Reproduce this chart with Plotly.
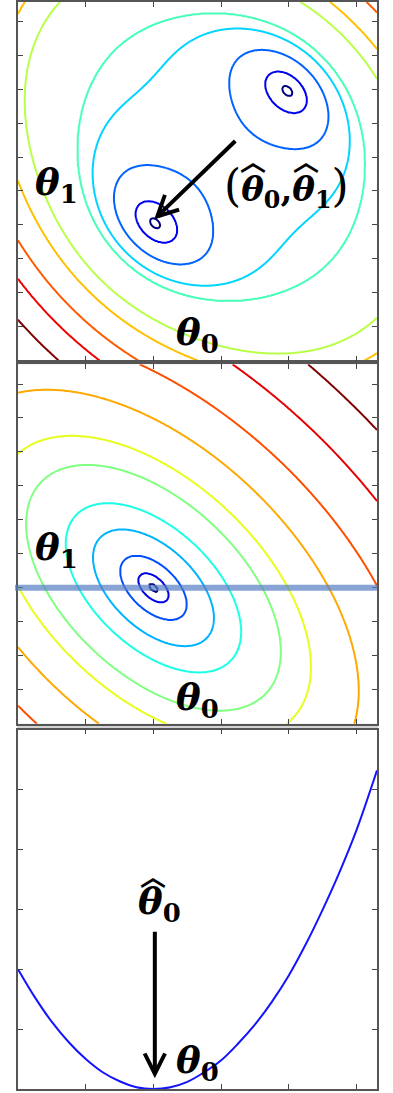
import numpy as np
import plotly.graph_objects as go

# ---------------------------------------------------------------- data
theta0_ticks = [-2, -1, 0, 1, 2]
theta1_ticks = [-2.5, -2, -1.5, -1, -0.5, 0, 0.5, 1, 1.5, 2]
cost_ticks = [1, 2, 3, 4, 5]

theta0_range = [-3.0, 2.3]
theta1_range = [-3.0, 2.29]
cost_range = [0.0, 6.0]

theta_hat = [-1.0, -1.0]

# panel 1 : points (theta0, theta1), with the index of the
# contour line (0 = innermost navy ... 9 = outer dark red) that passes there
p1_obs_level = [0, 0, 0, 0,
                1, 1, 1, 1, 1, 1, 1, 1,
                2, 2, 2, 2,
                3, 3, 3, 3, 3, 3, 3, 3,
                4, 4, 4, 4, 4, 4,
                5, 5, 5, 5,
                6, 6, 6, 6, 6,
                7, 7,
                8, 8,
                9, 9]
p1_obs_t0 = [-1.077, -0.93, -1.0, -1.0,
             -1.248, -0.682, -0.965, -0.965, 0.671, 1.237, 0.954, 0.954,
             -1.543, -0.155, -0.80, -0.95,
             -1.888, -1.79, -1.642, -1.15, -0.657, -0.166, 0.326, -0.10,
             -2.11, -2.306, -0.21, -1.543, -0.505, 0.868,
             -2.48, -2.774, -3.0, -1.347,
             -2.90, -3.0, 1.606, 2.3, 2.2,
             -3.0, 2.24,
             -3.0, -1.79,
             -3.0, -2.41]
p1_obs_t1 = [-0.96, -0.96, -0.89, -1.02,
             -0.935, -0.935, -0.653, -1.218, 1.0, 1.0, 1.291, 0.716,
             -0.80, -0.90, -0.147, -1.499,
             -0.46, -0.653, 0.577, 1.07, 1.562, 1.83, 1.905, -1.834,
             -0.653, 0.085, 2.078, 1.536, -2.203, 1.832,
             -0.653, 0.676, 2.078, -2.277,
             -0.653, -0.43, 2.28, 1.635, -2.9,
             -1.14, 2.28,
             -1.80, -3.0,
             -2.39, -3.0]
p1_colors = ["#000080", "#0000f1", "#0063ff", "#00d4ff", "#47ffb8",
             "#b8ff47", "#ffc000", "#ff5a00", "#f10000", "#800000"]

# panel 2 : single quadratic basin, J = a*d0^2 + 2*b*d0*d1 + c*d1^2
p2_curvature = [0.5, 0.27, 0.54]
p2_levels = [0.0015, 0.0175, 0.087, 0.29, 0.61, 1.29, 1.97, 3.35, 5.5, 8.6, 12.5]
p2_colors = ["#000080", "#0000e6", "#004dff", "#00b3ff", "#1affe6", "#80ff80",
             "#e6ff1a", "#ffa800", "#ff4d00", "#e60000", "#800000"]

# panel 3 : slice of panel 2 along theta1 = theta1_hat
p3_theta0 = [-3.0, -2.75, -2.5, -2.25, -2.0, -1.75, -1.5, -1.25, -1.0, -0.75, -0.5,
             -0.25, 0.0, 0.25, 0.5, 0.75, 1.0, 1.25, 1.5, 1.75, 2.0, 2.3]
p3_cost = [2.00, 1.53, 1.12, 0.78, 0.50, 0.28, 0.13, 0.03, 0.00, 0.03, 0.12,
           0.28, 0.48, 0.76, 1.08, 1.46, 1.90, 2.42, 3.00, 3.63, 4.33, 5.32]

# ---------------------------------------------------------------- panel 1 surface fit
# bowl + two symmetric wells, fitted so that each contour runs through its points
BOUNDS = np.array([[1.0, 4.0],    # Ru
                   [1.0, 5.0],    # Rv
                   [1.5, 6.0],    # power
                   [0.8, 60.0],   # Rt (perpendicular saturation)
                   [0.05, 12.0],  # well depth
                   [1.1, 2.3],    # well position along diagonal
                   [0.25, 2.0],   # well width along diagonal
                   [0.25, 2.5]])  # well width across


def decode(z):
    lo, hi = BOUNDS[:, 0], BOUNDS[:, 1]
    return lo + (hi - lo) / (1.0 + np.exp(-z))


def encode(p):
    lo, hi = BOUNDS[:, 0], BOUNDS[:, 1]
    q = (np.asarray(p) - lo) / (hi - lo)
    return np.log(q / (1 - q))


def surface1(prm, t0, t1):
    Ru, Rv, pw, Rt, A, c, su, sv = prm
    u = (t0 + t1) / np.sqrt(2)
    v = (t1 - t0) / np.sqrt(2)
    bowl = (u * u / Ru ** 2 + v * v / Rv ** 2) ** (pw / 2) / (1 + v * v / Rt ** 2)
    wells = A * (np.exp(-(u - c) ** 2 / (2 * su * su) - v * v / (2 * sv * sv)) +
                 np.exp(-(u + c) ** 2 / (2 * su * su) - v * v / (2 * sv * sv)))
    return bowl - wells


O0 = np.array(p1_obs_t0)
O1 = np.array(p1_obs_t1)
OL = np.array(p1_obs_level)
NLEV = len(p1_colors)


def fit_levels(prm):
    f = surface1(prm, O0, O1)
    h = 1e-4
    gx = (surface1(prm, O0 + h, O1) - surface1(prm, O0 - h, O1)) / (2 * h)
    gy = (surface1(prm, O0, O1 + h) - surface1(prm, O0, O1 - h)) / (2 * h)
    w = 1.0 / (gx * gx + gy * gy + 1e-8)
    err, levels = 0.0, []
    for k in range(NLEV):
        m = OL == k
        L = np.sum(w[m] * f[m]) / np.sum(w[m])
        err += np.sum(w[m] * (f[m] - L) ** 2)
        levels.append(L)
    d = np.diff(levels)
    err += 1e3 * np.sum(np.clip(-d, 0, None))
    return err, levels


def objective(z):
    e, _ = fit_levels(decode(z))
    return e if np.isfinite(e) else 1e12


def nelder_mead(fun, x0, step=0.6, iters=2500):
    n = len(x0)
    pts = [np.array(x0, float)]
    for i in range(n):
        p = np.array(x0, float)
        p[i] += step
        pts.append(p)
    vals = [fun(p) for p in pts]
    for _ in range(iters):
        idx = np.argsort(vals)
        pts = [pts[i] for i in idx]
        vals = [vals[i] for i in idx]
        cen = np.mean(pts[:-1], axis=0)
        xr = cen + (cen - pts[-1])
        fr = fun(xr)
        if fr < vals[0]:
            xe = cen + 2 * (cen - pts[-1])
            fe = fun(xe)
            if fe < fr:
                pts[-1], vals[-1] = xe, fe
            else:
                pts[-1], vals[-1] = xr, fr
        elif fr < vals[-2]:
            pts[-1], vals[-1] = xr, fr
        else:
            xc = cen + 0.5 * (pts[-1] - cen)
            fc = fun(xc)
            if fc < vals[-1]:
                pts[-1], vals[-1] = xc, fc
            else:
                for i in range(1, n + 1):
                    pts[i] = pts[0] + 0.5 * (pts[i] - pts[0])
                    vals[i] = fun(pts[i])
    i = int(np.argmin(vals))
    return pts[i], vals[i]


z0 = encode([2.0, 2.16, 4.0, 30.0, 1.5, 1.584, 0.6, 0.6])
best_z, best_e = nelder_mead(objective, z0)
for _ in range(3):
    best_z, best_e = nelder_mead(objective, best_z, step=0.3)
p1_params = decode(best_z)
_, p1_levels = fit_levels(p1_params)

# ---------------------------------------------------------------- grids
g0 = np.linspace(theta0_range[0], theta0_range[1], 380)
g1 = np.linspace(theta1_range[0], theta1_range[1], 380)
T0, T1 = np.meshgrid(g0, g1)


def surface2(t0, t1):
    a, b, c = p2_curvature
    d0 = t0 - theta_hat[0]
    d1 = t1 - theta_hat[1]
    return a * d0 * d0 + 2 * b * d0 * d1 + c * d1 * d1


Z1 = surface1(p1_params, T0, T1)
Z2 = surface2(T0, T1)


def level_index(z, levels):
    """monotone map so that the k-th level becomes the value k"""
    lv = list(levels)
    xp = [min(float(z.min()), lv[0]) - 1.0] + lv + [max(float(z.max()), lv[-1]) + 1.0]
    fp = [-1.0] + list(range(len(lv))) + [float(len(lv))]
    return np.interp(z, xp, fp).astype(np.float32)


def scale_of(colors):
    n = len(colors)
    return [[k / (n - 1), c] for k, c in enumerate(colors)]


# ---------------------------------------------------------------- layout geometry
W, H = 393, 1093
left_px, right_px = 18, 377
panels_px = [(0, 359), (363, 723), (729, 1089)]   # (top, bottom)


def px_x(p):
    return p / W


def px_y(p):
    return 1 - p / H


fig = go.Figure()

fig.add_trace(go.Contour(
    x=g0, y=g1, z=level_index(Z1, p1_levels),
    autocontour=False,
    contours=dict(start=0, end=NLEV - 1, size=1, coloring="lines"),
    colorscale=scale_of(p1_colors), showscale=False,
    line=dict(width=2, smoothing=1), hoverinfo="skip",
    xaxis="x", yaxis="y"))

fig.add_trace(go.Contour(
    x=g0, y=g1, z=level_index(Z2, p2_levels),
    autocontour=False,
    contours=dict(start=0, end=len(p2_levels) - 1, size=1, coloring="lines"),
    colorscale=scale_of(p2_colors), showscale=False,
    line=dict(width=2, smoothing=1), hoverinfo="skip",
    xaxis="x2", yaxis="y2"))

fig.add_trace(go.Scatter(
    x=p3_theta0, y=p3_cost, mode="lines",
    line=dict(color="#1414ff", width=2, shape="spline", smoothing=1),
    hoverinfo="skip", xaxis="x3", yaxis="y3"))

frame = dict(showline=True, linecolor="#555555", linewidth=1.6, mirror="ticks",
             ticks="inside", ticklen=5, tickwidth=1, tickcolor="#444444",
             showticklabels=False, showgrid=False, zeroline=False)

layout = dict(
    width=W, height=H, margin=dict(l=0, r=0, t=0, b=0),
    paper_bgcolor="white", plot_bgcolor="white", showlegend=False,
)
axis_ids = ["", "2", "3"]
y_ranges = [theta1_range, theta1_range, cost_range]
y_ticks = [theta1_ticks, theta1_ticks, cost_ticks]
for i, (top, bot) in enumerate(panels_px):
    sid = axis_ids[i]
    layout["xaxis" + sid] = dict(frame, domain=[px_x(left_px), px_x(right_px)],
                                 range=theta0_range, tickvals=theta0_ticks,
                                 anchor="y" + sid)
    layout["yaxis" + sid] = dict(frame, domain=[px_y(bot), px_y(top)],
                                 range=y_ranges[i], tickvals=y_ticks[i],
                                 anchor="x" + sid)
fig.update_layout(**layout)

shapes = []
for top, bot in [(359, 363), (723, 729)]:
    shapes.append(dict(type="rect", xref="paper", yref="paper",
                       x0=px_x(left_px - 1), x1=px_x(right_px + 1),
                       y0=px_y(bot), y1=px_y(top),
                       fillcolor="#d4d4d4", line=dict(width=0), layer="below"))
shapes.append(dict(type="line", xref="paper", yref="y2",
                   x0=px_x(left_px - 3), x1=px_x(right_px),
                   y0=theta_hat[1], y1=theta_hat[1],
                   line=dict(color="rgba(85,125,195,0.7)", width=6), layer="above"))
fig.update_layout(shapes=shapes)

FONT = "DejaVu Serif"
th = "<b><i>θ</i></b>"


def sub(d):
    return "<b><sub>%s</sub></b>" % d


annotations = []


def label(text, cx, cy, size=37):
    annotations.append(dict(text=text, xref="paper", yref="paper",
                            x=px_x(cx), y=px_y(cy), xanchor="center", yanchor="middle",
                            showarrow=False, font=dict(family=FONT, size=size, color="black")))


def hat(cx, cy):
    annotations.append(dict(text="<b>︿</b>", xref="paper", yref="paper",
                            x=px_x(cx), y=px_y(cy), xanchor="center", yanchor="middle",
                            showarrow=False,
                            font=dict(family="Noto Sans CJK SC", size=26, color="black")))


big = '<span style="font-size:44px">%s</span>'
label(th + sub(1), 56, 183)
label(th + sub(0), 198, 333)
label(big % "(" + th + sub(0) + "<b>,</b>" + th + sub(1) + big % ")", 286, 185, size=34)
hat(253, 158)
hat(306, 158)
label(th + sub(1), 56, 549)
label(th + sub(0), 198, 699)
label(th + sub(0), 159, 903)
hat(153, 874)
label(th + sub(0), 197, 1062)

annotations.append(dict(text="", x=theta_hat[0] + 0.01, y=theta_hat[1] + 0.08,
                        xref="x", yref="y", ax=0.23, ay=0.26, axref="x", ayref="y",
                        showarrow=True, arrowhead=5, arrowsize=1, arrowwidth=4,
                        arrowcolor="black", standoff=0))
annotations.append(dict(text="", x=theta_hat[0] + 0.02, y=0.18,
                        xref="x3", yref="y3", ax=theta_hat[0] + 0.02, ay=2.65,
                        axref="x3", ayref="y3",
                        showarrow=True, arrowhead=5, arrowsize=1, arrowwidth=4,
                        arrowcolor="black", standoff=0))
fig.update_layout(annotations=annotations)

fig.write_html("out.html", config={"displayModeBar": False},
               post_script="document.body.style.margin='0px';"
                           "document.body.style.padding='0px';"
                           "document.body.style.overflow='hidden';")
